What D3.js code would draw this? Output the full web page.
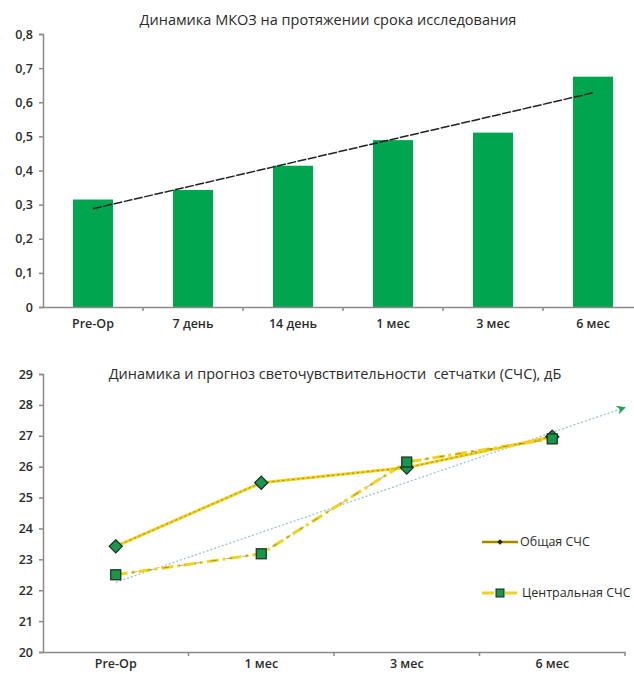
<!DOCTYPE html>
<html>
<head>
<meta charset="utf-8">
<script src="https://cdn.jsdelivr.net/npm/d3@7"></script>
<style>
  html, body { margin: 0; padding: 0; background: #fff; }
  svg { display: block; }
  text { font-family: "Open Sans", "DejaVu Sans", sans-serif; fill: #2b2b2b; }
</style>
</head>
<body>
<svg id="chart" width="634" height="674"></svg>
<script>
// Visual acuity (МКОЗ) by visit
const periodsA = ["Pre-Op", "7 день", "14 день", "1 мес", "3 мес", "6 мес"];
const acuity = [0.315, 0.343, 0.414, 0.489, 0.511, 0.675];
const acuityTicks = [0, 0.1, 0.2, 0.3, 0.4, 0.5, 0.6, 0.7, 0.8];

// Retinal light sensitivity (СЧС), dB
const periodsB = ["Pre-Op", "1 мес", "3 мес", "6 мес"];
const totalSens = [23.42, 25.48, 25.97, 26.97];
const centralSens = [22.5, 23.18, 26.15, 26.9];
const sensTicks = [20, 21, 22, 23, 24, 25, 26, 27, 28, 29];
const forecastAhead = 0.5; // periods the linear forecast is extended

const svg = d3.select("#chart");
const fmt = d => String(d).replace(".", ",");
const axisColor = "#8a8a8a";

// least-squares line over index positions
function linFit(vals) {
  const n = vals.length;
  const xs = d3.range(n);
  const mx = d3.mean(xs), my = d3.mean(vals);
  const b = d3.sum(xs, (x, i) => (x - mx) * (vals[i] - my)) / d3.sum(xs, x => (x - mx) ** 2);
  return x => my + b * (x - mx);
}

function styleAxis(g) {
  g.selectAll(".domain").attr("stroke", axisColor).attr("stroke-width", 1.5);
  g.selectAll(".tick line").attr("stroke", axisColor).attr("stroke-width", 1.5);
  g.selectAll(".tick text").style("font-family", "'Open Sans', sans-serif")
    .style("font-size", "12.5px").style("font-weight", "600").attr("fill", "#333");
}

// ---------- Chart 1: bars ----------
{
  const x = d3.scaleBand().domain(periodsA).range([43, 643]).paddingInner(0.6).paddingOuter(0.3);
  const y = d3.scaleLinear().domain([0, 0.8]).range([307, 34]);
  const g = svg.append("g");

  g.append("text").attr("x", 328).attr("y", 25).attr("text-anchor", "middle")
    .style("font-size", "14.5px").text("Динамика МКОЗ на протяжении срока исследования");

  g.selectAll("rect.bar").data(acuity).join("rect").attr("class", "bar")
    .attr("x", (d, i) => x(periodsA[i])).attr("width", x.bandwidth())
    .attr("y", d => y(d)).attr("height", d => y(0) - y(d))
    .attr("fill", "#00a54f");

  const band = d3.scaleBand().domain(periodsA).range([43, 643]);
  const xAxis = g.append("g").attr("transform", "translate(0,307)")
    .call(d3.axisBottom(band).tickSize(0).tickPadding(12));
  styleAxis(xAxis);
  // tick marks between categories
  xAxis.selectAll("line.sep").data(periodsA.slice(1)).join("line").attr("class", "sep")
    .attr("x1", d => band(d)).attr("x2", d => band(d)).attr("y1", 0).attr("y2", 4)
    .attr("stroke", axisColor).attr("stroke-width", 1.5);

  const yAxis = g.append("g").attr("transform", "translate(43,0)")
    .call(d3.axisLeft(y).tickValues(acuityTicks).tickFormat(fmt).tickSize(4).tickPadding(6));
  styleAxis(yAxis);

  const fit = linFit(acuity);
  const cx = i => band(periodsA[i]) + band.bandwidth() / 2;
  g.append("line")
    .attr("x1", cx(0)).attr("y1", y(fit(0)))
    .attr("x2", cx(acuity.length - 1)).attr("y2", y(fit(acuity.length - 1)))
    .attr("stroke", "#222").attr("stroke-width", 1.5).attr("stroke-dasharray", "9,1.5");
}

// ---------- Chart 2: lines ----------
{
  const band = d3.scaleBand().domain(periodsB).range([43, 625]);
  const cx = i => band(periodsB[i]) + band.bandwidth() / 2;
  const xi = d3.scaleLinear().domain([0, 1]).range([cx(0), cx(1)]);
  const y = d3.scaleLinear().domain([20, 29]).range([652, 374]);
  const g = svg.append("g");

  g.append("text").attr("x", 335).attr("y", 379).attr("text-anchor", "middle")
    .style("font-size", "14.5px").attr("xml:space", "preserve")
    .text("Динамика и прогноз светочувствительности  сетчатки (СЧС), дБ");

  const yAxis = g.append("g").attr("transform", "translate(43,0)")
    .call(d3.axisLeft(y).tickValues(sensTicks).tickSize(4).tickPadding(6));
  styleAxis(yAxis);

  const xAxis = g.append("g").attr("transform", "translate(0,652)")
    .call(d3.axisBottom(band).tickSize(0).tickPadding(7));
  styleAxis(xAxis);
  xAxis.selectAll("line.sep").data(periodsB.slice(1).concat(["end"])).join("line").attr("class", "sep")
    .attr("x1", d => d === "end" ? 625 : band(d)).attr("x2", d => d === "end" ? 625 : band(d))
    .attr("y1", 0).attr("y2", 4).attr("stroke", axisColor).attr("stroke-width", 1.5);

  // linear forecast of the central sensitivity
  const fit = linFit(centralSens);
  const xEnd = centralSens.length - 1 + forecastAhead;
  const defs = svg.append("defs");
  defs.append("marker").attr("id", "arrow").attr("viewBox", "0 0 10 10")
    .attr("refX", 9).attr("refY", 5).attr("markerWidth", 9).attr("markerHeight", 9)
    .attr("markerUnits", "userSpaceOnUse").attr("orient", "auto")
    .append("path").attr("d", "M0,0 L10,5 L0,10 L3,5 Z").attr("fill", "#1fa55a");
  g.append("line")
    .attr("x1", xi(0)).attr("y1", y(fit(0)))
    .attr("x2", xi(xEnd)).attr("y2", y(fit(xEnd)))
    .attr("stroke", "#9cc3cf").attr("stroke-width", 1.3).attr("stroke-dasharray", "2,2")
    .attr("marker-end", "url(#arrow)");

  const line = d3.line().x((d, i) => cx(i)).y(d => y(d));
  const yellow = "#f3d21c";

  // total sensitivity: solid yellow line
  g.append("path").attr("d", line(totalSens)).attr("fill", "none")
    .attr("stroke", yellow).attr("stroke-width", 3);
  g.append("path").attr("d", line(totalSens)).attr("fill", "none")
    .attr("stroke", "#5a5220").attr("stroke-width", 1).attr("stroke-dasharray", "2,3").attr("opacity", 0.6);

  // central sensitivity: dash-dot yellow line
  g.append("path").attr("d", line(centralSens)).attr("fill", "none")
    .attr("stroke", yellow).attr("stroke-width", 3).attr("stroke-dasharray", "12,4,3,4");
  g.append("path").attr("d", line(centralSens)).attr("fill", "none")
    .attr("stroke", "#5a5220").attr("stroke-width", 1).attr("stroke-dasharray", "6,10").attr("opacity", 0.5);

  const diamond = d3.symbol().type(d3.symbolDiamond2).size(110);
  g.selectAll("path.dia").data(totalSens).join("path").attr("class", "dia")
    .attr("d", diamond).attr("transform", (d, i) => `translate(${cx(i)},${y(d)})`)
    .attr("fill", "#16984a").attr("stroke", "#1c2a1c").attr("stroke-width", 1.2);

  g.selectAll("rect.sq").data(centralSens).join("rect").attr("class", "sq")
    .attr("x", (d, i) => cx(i) - 5).attr("y", d => y(d) - 5).attr("width", 10).attr("height", 10)
    .attr("fill", "#16984a").attr("stroke", "#1c2a1c").attr("stroke-width", 1.2);

  // legend
  const lg = g.append("g").attr("transform", "translate(482,0)");
  lg.append("line").attr("x1", 0).attr("x2", 36).attr("y1", 542).attr("y2", 542)
    .attr("stroke", yellow).attr("stroke-width", 3);
  lg.append("line").attr("x1", 0).attr("x2", 36).attr("y1", 542).attr("y2", 542)
    .attr("stroke", "#3a3a20").attr("stroke-width", 1);
  lg.append("path").attr("d", d3.symbol().type(d3.symbolDiamond2).size(20))
    .attr("transform", "translate(18,542)").attr("fill", "#1c2a1c");
  lg.append("text").attr("x", 38).attr("y", 546).style("font-size", "12.5px").text("Общая СЧС");

  lg.append("line").attr("x1", 0).attr("x2", 38).attr("y1", 593).attr("y2", 593)
    .attr("stroke", yellow).attr("stroke-width", 3).attr("stroke-dasharray", "12,4,3,4");
  lg.append("rect").attr("x", 14).attr("y", 589).attr("width", 8).attr("height", 8)
    .attr("fill", "#16984a").attr("stroke", "#1c2a1c").attr("stroke-width", 1);
  lg.append("text").attr("x", 40).attr("y", 597).style("font-size", "12.5px").text("Центральная СЧС");
}
</script>
</body>
</html>
